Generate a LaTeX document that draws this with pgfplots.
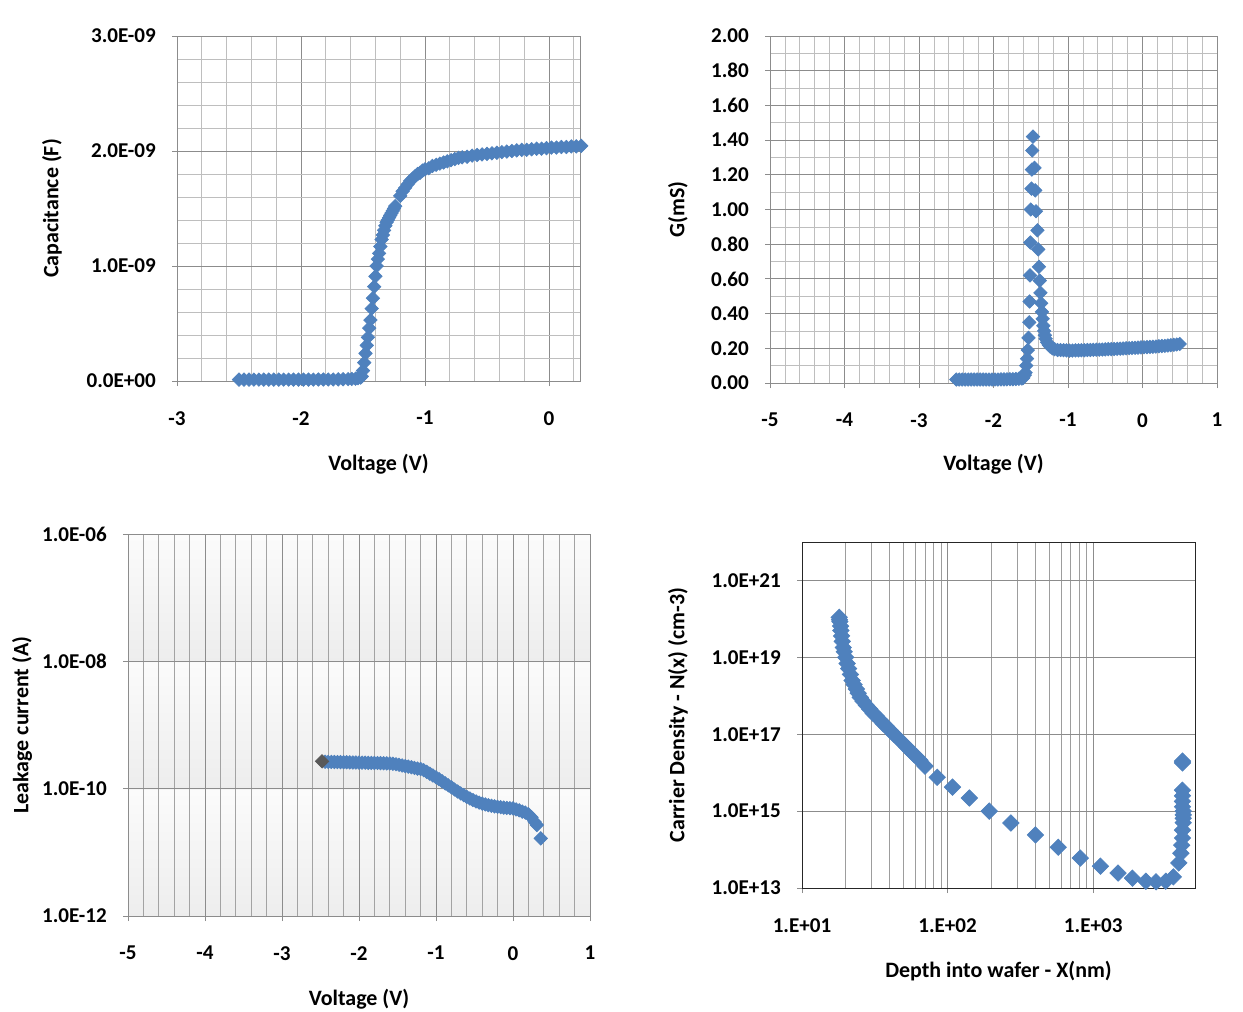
\documentclass[border=0pt]{standalone}
\usepackage{pgfplots}
\pgfplotsset{compat=1.18}
\usepackage{fontspec}
\setmainfont{Carlito}

\definecolor{mblue}{RGB}{79,129,189}
\definecolor{gridmaj}{RGB}{140,140,140}
\definecolor{gridmin}{RGB}{190,190,190}

% three grey bands behind the leakage plot, one per two decades
% (a pgf shading maps the filled box onto its middle part, 25bp..75bp)
\pgfdeclareverticalshading{bands}{100bp}{
  color(0bp)=(gray!14); color(25bp)=(gray!14); color(41.6bp)=(gray!3);
  color(41.7bp)=(gray!14); color(58.3bp)=(gray!3);
  color(58.4bp)=(gray!14); color(75bp)=(gray!3); color(100bp)=(gray!3)}

\pgfplotsset{
  excel/.style={
    scale only axis,
    clip=false,
    anchor=south west,
    axis line style={gridmaj},
    tick style={gridmaj, line width=0.5pt},
    tick align=outside,
    tick pos=left,
    major tick length=0.1cm,
    minor tick length=0pt,
    grid=both,
    major grid style={gridmaj, line width=0.5pt},
    minor grid style={gridmin, line width=0.4pt},
    scaled ticks=false,
    ticklabel style={font=\bfseries\fontsize{12}{14}\selectfont},
    label style={font=\bfseries\fontsize{12.5}{15}\selectfont},
    xticklabel style={yshift=-0.38cm},
    yticklabel style={xshift=-0.2cm},
    xlabel style={anchor=center},
    ylabel style={anchor=center},
  },
  dots/.style={only marks, mark=square*, mark size=2.7pt,
    mark options={rotate=45, draw=mblue, fill=mblue}},
}

\begin{document}
\begin{tikzpicture}
\path[use as bounding box] (0,0) rectangle (24.86cm,20.22cm);

% C-V
\begin{axis}[excel,
  at={(3.54cm,12.6cm)}, width=8.06cm, height=6.9cm,
  xmin=-3, xmax=0.25, ymin=0, ymax=3e-9,
  xtick={-3,-2,-1,0}, xticklabels={-3,-2,-1,0},
  minor xtick={-2.8,-2.6,-2.4,-2.2,-1.8,-1.6,-1.4,-1.2,-0.8,-0.6,-0.4,-0.2,0.2},
  ytick={0,1e-9,2e-9,3e-9},
  yticklabels={0.0E+00,1.0E-09,2.0E-09,3.0E-09},
  minor y tick num=4,
  xlabel={Voltage (V)}, ylabel={Capacitance (F)},
  xlabel style={at={(axis description cs:0.5,-0.241)}},
  ylabel style={at={(axis description cs:-0.31,0.5)}},
]
\addplot[dots] coordinates {
(-2.50,1.2e-11) (-2.46,1.2e-11) (-2.42,1.2e-11) (-2.38,1.2e-11) (-2.34,1.2e-11)
(-2.30,1.2e-11) (-2.26,1.2e-11) (-2.22,1.2e-11) (-2.18,1.2e-11) (-2.14,1.2e-11)
(-2.10,1.2e-11) (-2.06,1.2e-11) (-2.02,1.2e-11) (-1.98,1.2e-11) (-1.94,1.2e-11)
(-1.90,1.2e-11) (-1.86,1.3e-11) (-1.82,1.3e-11) (-1.78,1.3e-11) (-1.74,1.3e-11)
(-1.70,1.4e-11) (-1.66,1.5e-11) (-1.62,1.6e-11) (-1.59,1.8e-11) (-1.56,2.0e-11)
(-1.54,2.5e-11) (-1.52,3.0e-11) (-1.51,4.0e-11) (-1.50,9.0e-11) (-1.49,1.6e-10)
(-1.48,2.4e-10) (-1.47,3.1e-10) (-1.46,3.8e-10) (-1.45,4.6e-10) (-1.44,5.3e-10)
(-1.43,6.3e-10) (-1.42,7.2e-10) (-1.41,8.2e-10) (-1.40,9.1e-10) (-1.39,1.00e-9)
(-1.38,1.06e-9) (-1.37,1.11e-9) (-1.36,1.17e-9) (-1.35,1.23e-9) (-1.34,1.27e-9)
(-1.33,1.31e-9) (-1.32,1.35e-9) (-1.31,1.38e-9) (-1.30,1.40e-9) (-1.29,1.42e-9)
(-1.28,1.44e-9) (-1.27,1.46e-9) (-1.26,1.48e-9) (-1.25,1.50e-9) (-1.24,1.52e-9)
(-1.20,1.61e-9) (-1.18,1.65e-9) (-1.16,1.68e-9) (-1.14,1.71e-9) (-1.12,1.74e-9)
(-1.10,1.76e-9) (-1.08,1.78e-9) (-1.06,1.80e-9) (-1.04,1.81e-9) (-1.02,1.83e-9)
(-1.00,1.84e-9) (-0.97,1.85e-9) (-0.94,1.87e-9) (-0.91,1.88e-9) (-0.88,1.89e-9)
(-0.85,1.90e-9) (-0.82,1.91e-9) (-0.79,1.92e-9) (-0.76,1.93e-9) (-0.73,1.94e-9)
(-0.70,1.945e-9) (-0.66,1.95e-9) (-0.62,1.96e-9) (-0.58,1.965e-9) (-0.54,1.97e-9)
(-0.50,1.975e-9) (-0.46,1.98e-9) (-0.42,1.985e-9) (-0.38,1.99e-9) (-0.34,1.995e-9)
(-0.30,2.00e-9) (-0.26,2.005e-9) (-0.22,2.01e-9) (-0.18,2.01e-9) (-0.14,2.015e-9)
(-0.10,2.02e-9) (-0.06,2.02e-9) (-0.02,2.025e-9) (0.02,2.03e-9) (0.06,2.03e-9)
(0.10,2.035e-9) (0.14,2.035e-9) (0.18,2.04e-9) (0.22,2.04e-9) (0.26,2.045e-9)
};
\end{axis}

% G-V
\begin{axis}[excel,
  at={(15.4cm,12.56cm)}, width=8.94cm, height=6.94cm,
  xmin=-5, xmax=1, ymin=0, ymax=2,
  xtick={-5,-4,-3,-2,-1,0,1}, xticklabels={-5,-4,-3,-2,-1,0,1},
  minor x tick num=4,
  ytick={0,0.2,0.4,0.6,0.8,1.0,1.2,1.4,1.6,1.8,2.0},
  yticklabels={0.00,0.20,0.40,0.60,0.80,1.00,1.20,1.40,1.60,1.80,2.00},
  minor y tick num=1,
  xlabel={Voltage (V)}, ylabel={G(mS)},
  xlabel style={at={(axis description cs:0.5,-0.233)}},
  ylabel style={at={(axis description cs:-0.206,0.5)}},
]
\addplot[dots] coordinates {
(-2.50,0.020) (-2.46,0.020) (-2.42,0.020) (-2.38,0.020) (-2.34,0.020)
(-2.30,0.020) (-2.26,0.020) (-2.22,0.020) (-2.18,0.020) (-2.14,0.020)
(-2.10,0.020) (-2.06,0.020) (-2.02,0.020) (-1.98,0.020) (-1.94,0.020)
(-1.90,0.021) (-1.86,0.021) (-1.82,0.021) (-1.78,0.022) (-1.74,0.022)
(-1.70,0.023) (-1.66,0.024) (-1.62,0.026) (-1.60,0.03) (-1.58,0.045)
(-1.57,0.06) (-1.56,0.10) (-1.55,0.14) (-1.54,0.19) (-1.53,0.26)
(-1.52,0.35) (-1.515,0.47) (-1.51,0.62) (-1.505,0.81) (-1.50,1.00)
(-1.49,1.12) (-1.485,1.23) (-1.48,1.34) (-1.47,1.42) (-1.45,1.24)
(-1.44,1.11) (-1.43,0.99) (-1.41,0.88) (-1.40,0.77) (-1.39,0.67)
(-1.38,0.59) (-1.37,0.52) (-1.36,0.46) (-1.35,0.41) (-1.34,0.37)
(-1.33,0.33) (-1.32,0.30) (-1.31,0.275) (-1.30,0.255) (-1.28,0.235)
(-1.26,0.22) (-1.24,0.21) (-1.21,0.20) (-1.18,0.195) (-1.14,0.19)
(-1.10,0.19) (-1.06,0.189) (-1.02,0.188) (-0.98,0.187) (-0.94,0.187)
(-0.90,0.188) (-0.86,0.188) (-0.82,0.189) (-0.78,0.189) (-0.74,0.190)
(-0.70,0.190) (-0.66,0.191) (-0.62,0.192) (-0.58,0.192) (-0.54,0.193)
(-0.50,0.194) (-0.46,0.195) (-0.42,0.195) (-0.38,0.196) (-0.34,0.197)
(-0.30,0.198) (-0.26,0.199) (-0.22,0.200) (-0.18,0.201) (-0.14,0.202)
(-0.10,0.203) (-0.06,0.204) (-0.02,0.205) (0.02,0.206) (0.06,0.207)
(0.10,0.208) (0.14,0.209) (0.18,0.210) (0.22,0.212) (0.26,0.213)
(0.30,0.214) (0.34,0.216) (0.38,0.218) (0.42,0.220) (0.46,0.222)
(0.50,0.225)
};
\end{axis}

% I-V leakage
\begin{axis}[excel,
  at={(2.56cm,1.9cm)}, width=9.24cm, height=7.64cm,
  ymode=log,
  axis background/.style={shading=bands},
  xmin=-5, xmax=1, ymin=1e-12, ymax=1e-6,
  xtick={-5,-4,-3,-2,-1,0,1}, xticklabels={-5,-4,-3,-2,-1,0,1},
  minor x tick num=4,
  ytick={1e-12,1e-10,1e-8,1e-6},
  yticklabels={1.0E-12,1.0E-10,1.0E-08,1.0E-06},
  yminorticks=false, yminorgrids=false,
  minor grid style={gridmaj!80, line width=0.4pt},
  xlabel={Voltage (V)}, ylabel={Leakage current (A)},
  xlabel style={at={(axis description cs:0.5,-0.217)}},
  ylabel style={at={(axis description cs:-0.229,0.5)}},
]
\addplot[dots] coordinates {
(-2.44,2.65e-10) (-2.40,2.63e-10) (-2.36,2.63e-10) (-2.32,2.62e-10)
(-2.28,2.62e-10) (-2.24,2.61e-10) (-2.20,2.60e-10) (-2.16,2.60e-10) (-2.12,2.59e-10)
(-2.08,2.58e-10) (-2.04,2.58e-10) (-2.00,2.57e-10) (-1.96,2.56e-10) (-1.92,2.56e-10)
(-1.88,2.55e-10) (-1.84,2.54e-10) (-1.80,2.53e-10) (-1.76,2.53e-10) (-1.72,2.52e-10)
(-1.68,2.51e-10) (-1.64,2.50e-10) (-1.60,2.49e-10) (-1.56,2.46e-10) (-1.52,2.42e-10)
(-1.48,2.37e-10) (-1.44,2.32e-10) (-1.40,2.26e-10) (-1.36,2.22e-10) (-1.32,2.17e-10)
(-1.28,2.12e-10) (-1.24,2.07e-10) (-1.20,2.04e-10) (-1.16,1.95e-10) (-1.12,1.84e-10)
(-1.08,1.72e-10) (-1.04,1.61e-10) (-1.00,1.51e-10) (-0.96,1.41e-10) (-0.92,1.31e-10)
(-0.88,1.21e-10) (-0.84,1.13e-10) (-0.80,1.05e-10) (-0.76,9.72e-11) (-0.72,9.04e-11)
(-0.68,8.43e-11) (-0.64,7.91e-11) (-0.60,7.41e-11) (-0.56,7.02e-11) (-0.52,6.64e-11)
(-0.48,6.31e-11) (-0.44,6.05e-11) (-0.40,5.82e-11) (-0.36,5.66e-11) (-0.32,5.51e-11)
(-0.28,5.38e-11) (-0.24,5.28e-11) (-0.20,5.19e-11) (-0.16,5.12e-11) (-0.12,5.05e-11)
(-0.08,4.99e-11) (-0.04,4.94e-11) (0.00,4.90e-11) (0.04,4.73e-11) (0.08,4.57e-11)
(0.12,4.37e-11) (0.16,4.22e-11) (0.20,3.98e-11) (0.24,3.55e-11) (0.28,3.02e-11)
(0.31,2.69e-11) (0.36,1.66e-11)
};
\addplot[only marks, mark=square*, mark size=2.7pt,
  mark options={rotate=45, draw=gray!70!black, fill=gray!70!black}]
  coordinates {(-2.48,2.69e-10)};
\end{axis}

% carrier density profile
\begin{axis}[excel,
  at={(16.04cm,2.46cm)}, width=7.86cm, height=6.92cm,
  xmode=log, ymode=log,
  xmin=10, xmax=5000, ymin=1e13, ymax=1e22,
  axis line style={black!85},
  xtick={10,100,1000}, xticklabels={1.E+01,1.E+02,1.E+03},
  ytick={1e13,1e15,1e17,1e19,1e21},
  yticklabels={1.0E+13,1.0E+15,1.0E+17,1.0E+19,1.0E+21},
  yminorticks=false, yminorgrids=false,
  minor grid style={gridmaj!85, line width=0.4pt},
  xlabel={Depth into wafer - X(nm)}, ylabel={Carrier Density - N(x) (cm-3)},
  xlabel style={at={(axis description cs:0.5,-0.24)}},
  ylabel style={at={(axis description cs:-0.316,0.5)}},
]
\addplot[dots, mark size=3.3pt] coordinates {
(18.0,1.1e20) (18.1,9.5e19) (18.2,8.5e19) (18.4,6.5e19) (18.5,5.0e19)
(18.7,3.6e19) (18.9,2.6e19) (19.2,1.8e19) (19.5,1.4e19) (19.95,1.0e19)
(20.4,6.9e18) (20.9,5.1e18) (21.5,3.6e18) (22.1,2.5e18) (22.8,1.95e18)
(23.6,1.5e18) (24.3,1.17e18) (25.1,9.1e17) (26.3,7.2e17) (27.7,5.6e17)
(29.2,4.5e17) (30.8,3.5e17) (32.4,2.95e17) (34.3,2.35e17) (36.1,1.9e17)
(38.0,1.58e17) (40.3,1.26e17) (42.7,1.0e17) (45.7,7.8e16) (49.0,6.0e16)
(52.5,4.6e16) (55.6,3.7e16) (58.9,2.95e16) (61.7,2.5e16) (64.6,2.1e16)
(70,1.48e16) (84.8,7.6e15) (108,4.2e15) (141,2.2e15) (193,1.0e15)
(272,4.9e14) (401,2.4e14) (575,1.15e14) (815,6.0e13) (1120,3.7e13)
(1480,2.45e13) (1860,1.8e13) (2300,1.5e13) (2700,1.45e13) (3150,1.5e13)
(3550,1.95e13) (3870,4.5e13) (4000,8e13) (4050,1.3e14) (4100,2.0e14)
(4100,3.2e14) (4150,5e14) (4150,6.5e14) (4150,8e14) (4150,1.0e15)
(4100,1.3e15) (4100,1.8e15) (4100,2.5e15) (4100,3.5e15) (4100,1.8e16)
(4100,2.0e16)
};
\end{axis}
\end{tikzpicture}
\end{document}
